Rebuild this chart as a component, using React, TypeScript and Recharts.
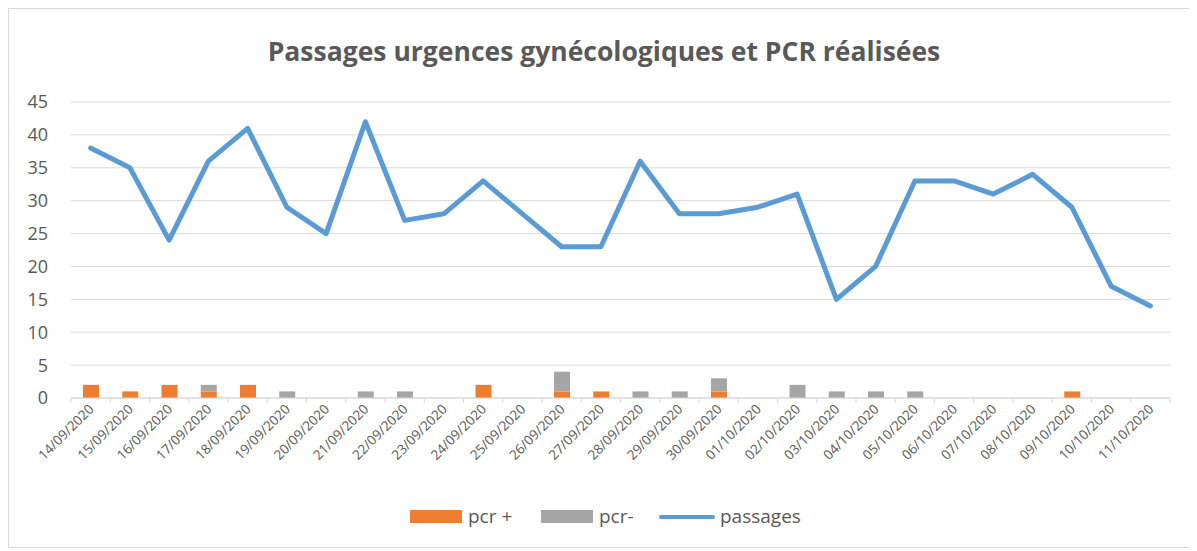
import React from 'react'
import { ComposedChart, Bar, Line, XAxis, YAxis, CartesianGrid } from 'recharts'

const DATES = [
  '14/09/2020', '15/09/2020', '16/09/2020', '17/09/2020', '18/09/2020', '19/09/2020', '20/09/2020',
  '21/09/2020', '22/09/2020', '23/09/2020', '24/09/2020', '25/09/2020', '26/09/2020', '27/09/2020',
  '28/09/2020', '29/09/2020', '30/09/2020', '01/10/2020', '02/10/2020', '03/10/2020', '04/10/2020',
  '05/10/2020', '06/10/2020', '07/10/2020', '08/10/2020', '09/10/2020', '10/10/2020', '11/10/2020',
]
const PCR_POS = [2, 1, 2, 1, 2, 0, 0, 0, 0, 0, 2, 0, 1, 1, 0, 0, 1, 0, 0, 0, 0, 0, 0, 0, 0, 1, 0, 0]
const PCR_NEG = [0, 0, 0, 1, 0, 1, 0, 1, 1, 0, 0, 0, 3, 0, 1, 1, 2, 0, 2, 1, 1, 1, 0, 0, 0, 0, 0, 0]
const PASSAGES = [38, 35, 24, 36, 41, 29, 25, 42, 27, 28, 33, 28, 23, 23, 36, 28, 28, 29, 31, 15, 20, 33, 33, 31, 34, 29, 17, 14]
const Y_TICKS = [0, 5, 10, 15, 20, 25, 30, 35, 40, 45]

const COLORS = {
  pos: '#ED7D31',
  neg: '#A5A5A5',
  line: '#5B9BD5',
  text: '#595959',
  grid: '#D9D9D9',
}

const FONT = '"Open Sans", sans-serif'

const data = DATES.map((date, i) => ({
  date,
  pcrPos: PCR_POS[i],
  pcrNeg: PCR_NEG[i],
  passages: PASSAGES[i],
}))

function DateTick(props: any) {
  const { x, y, payload, index, visibleTicksCount } = props
  const half = payload?.offset ?? 19.6
  const last = index === visibleTicksCount - 1
  return (
    <g>
      <line x1={x - half} x2={x - half} y1={y} y2={y + 5} stroke={COLORS.grid} />
      {last && <line x1={x + half} x2={x + half} y1={y} y2={y + 5} stroke={COLORS.grid} />}
      <text
        x={x + 4}
        y={y + 12}
        transform={`rotate(-45 ${x + 4} ${y + 12})`}
        textAnchor="end"
        fill={COLORS.text}
        fontSize={13.5}
        fontFamily={FONT}
      >
        {payload.value}
      </text>
    </g>
  )
}

export default function App() {
  return (
    <div
      style={{
        position: 'relative',
        width: 1189,
        height: 538,
        borderLeft: '1px solid #D9D9D9',
        borderTop: '1px solid #D9D9D9',
        borderBottom: '1px solid #D9D9D9',
        fontFamily: FONT,
        background: '#fff',
      }}
    >
      <div
        style={{
          position: 'absolute',
          left: 0,
          top: 24,
          width: 1190,
          textAlign: 'center',
          fontSize: 26.5,
          fontWeight: 700,
          color: COLORS.text,
        }}
      >
        Passages urgences gynécologiques et PCR réalisées
      </div>
      <ComposedChart
        width={1181}
        height={538}
        data={data}
        margin={{ top: 93, right: 20, bottom: 69, left: 0 }}
      >
        <CartesianGrid vertical={false} stroke={COLORS.grid} />
        <XAxis
          dataKey="date"
          interval={0}
          height={80}
          axisLine={{ stroke: COLORS.grid }}
          tickLine={false}
          tickSize={0}
          tickMargin={0}
          tick={<DateTick />}
        />
        <YAxis
          domain={[0, 45]}
          ticks={Y_TICKS}
          width={62}
          axisLine={false}
          tickLine={false}
          tickSize={0}
          tickMargin={23}
          tick={{ fill: COLORS.text, fontSize: 18, fontFamily: FONT }}
        />
        <Bar dataKey="pcrPos" stackId="pcr" fill={COLORS.pos} barSize={16} isAnimationActive={false} />
        <Bar dataKey="pcrNeg" stackId="pcr" fill={COLORS.neg} barSize={16} isAnimationActive={false} />
        <Line
          dataKey="passages"
          type="linear"
          stroke={COLORS.line}
          strokeWidth={5}
          strokeLinejoin="round"
          strokeLinecap="round"
          dot={false}
          activeDot={false}
          isAnimationActive={false}
        />
      </ComposedChart>
      {/* legend */}
      <div style={{ position: 'absolute', left: 401, top: 501, width: 52, height: 13, background: COLORS.pos }} />
      <div style={{ position: 'absolute', left: 459, top: 495, fontSize: 19, color: COLORS.text, lineHeight: '24px' }}>pcr +</div>
      <div style={{ position: 'absolute', left: 532, top: 501, width: 52, height: 13, background: COLORS.neg }} />
      <div style={{ position: 'absolute', left: 590, top: 495, fontSize: 19, color: COLORS.text, lineHeight: '24px' }}>pcr-</div>
      <div style={{ position: 'absolute', left: 650, top: 506, width: 56, height: 4, borderRadius: 2, background: COLORS.line }} />
      <div style={{ position: 'absolute', left: 711, top: 495, fontSize: 19, color: COLORS.text, lineHeight: '24px' }}>passages</div>
    </div>
  )
}
